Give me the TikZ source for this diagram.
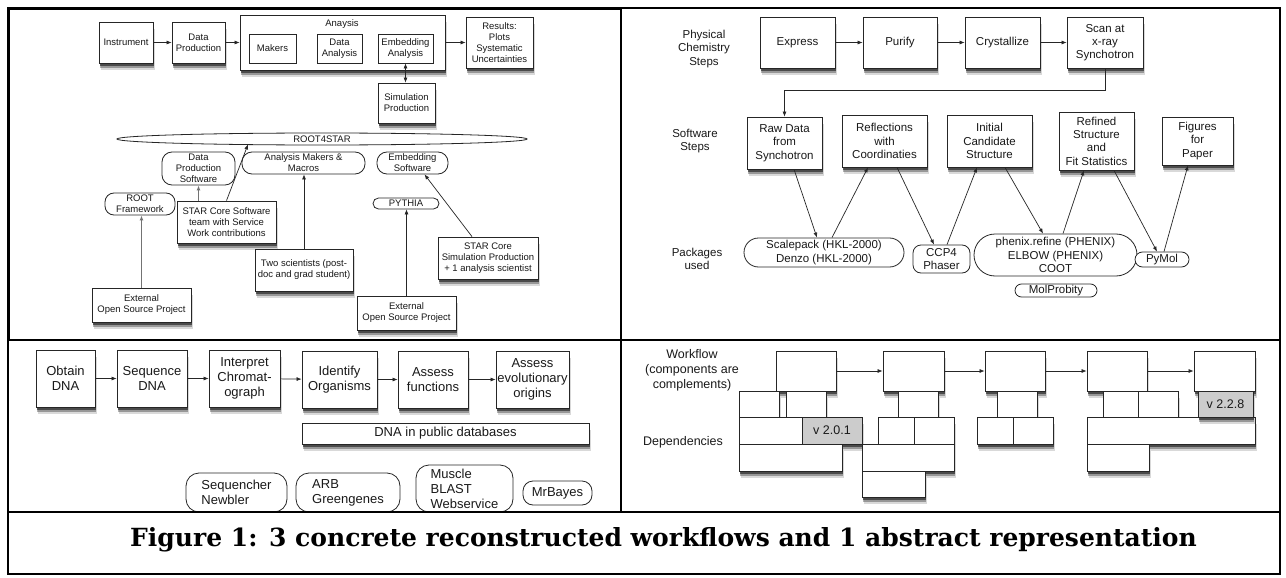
\documentclass[tikz,border=0pt]{standalone}
\usepackage{fontspec}
\setmainfont{Liberation Sans}
\newfontfamily\capfont{DejaVu Serif}
\usetikzlibrary{arrows.meta,shapes.misc,shapes.geometric,shadows,calc}
\newcommand\mkbox[7]{\node[#1, minimum width={#5-#3}, minimum height={#6-#4}] (#2) at ({(#3+#5)/2},{(#4+#6)/2}) {#7};}
\begin{document}
\begin{tikzpicture}[x=1pt,y=-1pt,
  base/.style={draw=black!85, line width=0.8pt, fill=white, align=center, inner sep=0.5pt, text=black!90},
  shd/.style={general shadow={fill=black, opacity=.15, shadow xshift=1.5pt, shadow yshift=-7pt},
              general shadow={fill=black, opacity=.3, shadow xshift=1pt, shadow yshift=-5pt},
              general shadow={fill=black, opacity=.5, shadow xshift=0.5pt, shadow yshift=-3pt}},
  sbox/.style={base, shd},
  rbox/.style={base, rounded corners=#1}, rbox/.default=8pt,
  stad/.style={base, rounded rectangle, inner sep=0pt},
  lbl/.style={align=center, text=black!90, inner sep=0pt},
  arr/.style={-{Latex[length=5pt,width=4pt]}, line width=0.7pt, draw=black!85},
  garr/.style={-{Latex[length=5pt,width=4pt]}, line width=1.1pt, draw=black!55},
  darr/.style={{Latex[length=5pt,width=4pt]}-{Latex[length=5pt,width=4pt]}, line width=0.7pt, draw=black!85},
  ftl/.style={font=\fontsize{9.5}{11}\selectfont},
  ftr/.style={font=\fontsize{11.5}{13.3}\selectfont},
  fbl/.style={font=\fontsize{13}{15}\selectfont},
  fbr/.style={font=\fontsize{12.5}{15}\selectfont},
  gry/.style={fill=black!20}
]
\useasboundingbox (0,0) rectangle (1286,578);
\fill[white] (0,0) rectangle (1286,578);

% ---------------- top-left: STAR ----------------
\mkbox{sbox,ftl}{instr}{99}{22}{153}{63}{Instrument}
\mkbox{sbox,ftl}{dprod}{172}{22}{225}{63}{Data\\Production}
\mkbox{sbox,ftl}{ana}{240}{15}{445}{70}{}
\node[lbl,ftl] (analbl) at (342,24) {Anaysis};
\mkbox{base,ftl}{mak}{249}{34}{296}{63}{Makers}
\mkbox{base,ftl}{dana}{317}{34}{362}{63}{Data\\Analysis}
\mkbox{base,ftl}{emba}{378}{34}{433}{63}{Embedding\\Analysis}
\mkbox{sbox,ftl}{res}{466}{17}{533}{68}{Results:\\Plots\\Systematic\\Uncertainties}
\mkbox{sbox,ftl}{sim}{378}{83}{435}{123}{Simulation\\Production}
\node[ellipse, draw=black!85, line width=0.8pt, minimum width=410, minimum height=12, inner sep=0pt] (r4s) at (322,139) {};
\node[lbl,ftl] (r4slbl) at (r4s) {ROOT4STAR};
\mkbox{rbox=10pt,ftl}{dps}{162}{152}{235}{185}{Data\\Production\\Software}
\mkbox{rbox=10pt,ftl}{amm}{242}{152}{365}{174}{Analysis Makers \&\\Macros}
\mkbox{rbox=10pt,ftl}{es}{377}{152}{448}{174}{Embedding\\Software}
\mkbox{rbox=9pt,ftl}{root}{105}{193}{175}{215}{ROOT\\Framework}
\mkbox{sbox,ftl}{scs}{177}{201}{276}{243}{STAR Core Software\\team with Service\\Work contributions}
\mkbox{sbox,ftl}{two}{255}{249}{353}{291}{Two scientists (post-\\doc and grad student)}
\mkbox{stad,ftl}{pyth}{373}{198}{439}{209}{PYTHIA}
\mkbox{sbox,ftl}{ext1}{92}{288}{191}{322}{External\\Open Source Project}
\mkbox{sbox,ftl}{ext2}{357}{296}{456}{330}{External\\Open Source Project}
\mkbox{sbox,ftl}{sim2}{438}{237}{538}{279}{STAR Core\\Simulation Production\\+ 1 analysis scientist}

\draw[arr] (instr) -- (dprod);
\draw[arr] (dprod) -- (ana);
\draw[arr] (ana) -- (res);
\draw[darr] (emba.south) -- (emba.south |- sim.north);
\draw[garr] (scs.north -| dps.south) -- (dps.south);
\draw[arr] (scs.north) -- ([xshift=-74pt,yshift=1pt]r4s.south);
\draw[garr] (ext1.north) -- (ext1.north |- root.south);
\draw[arr] (two.north) -- (two.north |- amm.south);
\draw[arr] (ext2.north) -- (ext2.north |- pyth.south);
\draw[arr] ([xshift=-16pt]sim2.north) -- ([xshift=12pt]es.south);

% ---------------- top-right: crystallography ----------------
\node[lbl,ftr] (lphys) at (704,49) {Physical\\Chemistry\\Steps};
\mkbox{sbox,ftr}{expr}{760}{17}{835}{68}{Express}
\mkbox{sbox,ftr}{puri}{863}{17}{937}{68}{Purify}
\mkbox{sbox,ftr}{crys}{965}{17}{1040}{68}{Crystallize}
\mkbox{sbox,ftr}{scan}{1067}{17}{1143}{68}{Scan at\\x-ray\\Synchotron}
\node[lbl,ftr] (lsoft) at (695,141) {Software\\Steps};
\mkbox{sbox,ftr}{raw}{747}{117}{822}{169}{Raw Data\\from\\Synchotron}
\mkbox{sbox,ftr}{refl}{842}{115}{927}{167}{Reflections\\with\\Coordinaties}
\mkbox{sbox,ftr}{init}{947}{115}{1032}{167}{Initial\\Candidate\\Structure}
\mkbox{sbox,ftr}{refi}{1059}{112}{1134}{170}{Refined\\Structure\\and\\Fit Statistics}
\mkbox{sbox,ftr}{figs}{1162}{117}{1233}{165}{Figures\\for\\Paper}
\node[lbl,ftr] (lpack) at (697,259) {Packages\\used};
\mkbox{stad,ftr}{sp}{744}{238}{904}{267}{Scalepack (HKL-2000)\\Denzo (HKL-2000)}
\mkbox{rbox=8pt,ftr}{ccp}{913}{245}{970}{273}{CCP4\\Phaser}
\mkbox{stad,ftr}{phx}{974}{234}{1137}{276}{phenix.refine (PHENIX)\\ELBOW (PHENIX)\\COOT}
\mkbox{stad,ftr}{pym}{1135}{252}{1189}{267}{PyMol}
\mkbox{stad,ftr}{molp}{1015}{284}{1097}{297}{MolProbity}

\draw[arr] (expr) -- (puri);
\draw[arr] (puri) -- (crys);
\draw[arr] (crys) -- (scan);
\draw[arr] (scan.south) -- ++(0,22) -| (raw.north);
\draw[arr] ([xshift=9.5pt]raw.south) -- ([xshift=-7pt]sp.north);
\draw[arr] ([xshift=8pt]sp.north) -- ([xshift=-16.5pt]refl.south);
\draw[arr] ([xshift=12.5pt]refl.south) -- ([xshift=-7.5pt]ccp.north);
\draw[arr] ([xshift=5.5pt]ccp.north) -- ([xshift=-12.5pt]init.south);
\draw[arr] ([xshift=15.5pt]init.south) -- ([xshift=-12.5pt]phx.north);
\draw[arr] ([xshift=7.5pt]phx.north) -- ([xshift=-12.5pt]refi.south);
\draw[arr] ([xshift=17.5pt]refi.south) -- ([xshift=-5pt]pym.north);
\draw[arr] ([xshift=2pt]pym.north) -- ([xshift=-9.5pt]figs.south);

% ---------------- bottom-left: DNA ----------------
\mkbox{sbox,fbl}{obt}{36}{350}{95}{407}{Obtain\\DNA}
\mkbox{sbox,fbl}{seq}{117}{350}{187}{407}{Sequence\\DNA}
\mkbox{sbox,fbl}{intp}{209}{350}{280}{407}{Interpret\\Chromat-\\ograph}
\mkbox{sbox,fbl}{iden}{302}{351}{377}{408}{Identify\\Organisms}
\mkbox{sbox,fbl}{assf}{398}{351}{468}{408}{Assess\\functions}
\mkbox{sbox,fbl}{asse}{496}{351}{569}{408}{Assess\\evolutionary\\origins}
\mkbox{sbox,fbl}{dnadb}{302}{423}{589}{444}{DNA in public databases}
\mkbox{rbox=13pt,fbl,align=left}{sqn}{186}{473}{287}{512}{Sequencher\\Newbler}
\mkbox{rbox=13pt,fbl,align=left}{arb}{296}{473}{400}{512}{ARB\\Greengenes}
\mkbox{rbox=13pt,fbl,align=left}{mus}{416}{465}{513}{512}{Muscle\\BLAST\\Webservice}
\mkbox{rbox=10pt,fbl}{mrb}{523}{481}{592}{505}{MrBayes}

\draw[arr] (obt) -- (seq);
\draw[arr] (seq) -- (intp);
\draw[arr] (intp) -- (iden);
\draw[arr] (iden) -- (assf);
\draw[arr] (assf) -- (asse);

% ---------------- bottom-right: abstract ----------------
\node[lbl,fbr] (lwf) at (692,370) {Workflow\\(components are\\complements)};
\node[lbl,fbr] (ldep) at (683,442) {Dependencies};
\mkbox{sbox,fbr}{w1}{776}{351}{836}{391}{}
\mkbox{sbox,fbr}{g1a}{739}{391}{779}{417}{}
\mkbox{sbox,fbr}{g1b}{786}{391}{826}{417}{}
\mkbox{sbox,fbr}{g1c}{739}{417}{802}{444}{}
\mkbox{sbox,fbr,gry}{g1v}{802}{417}{862}{444}{v 2.0.1}
\mkbox{sbox,fbr}{g1d}{739}{444}{842}{471}{}
\mkbox{sbox,fbr}{w2}{883}{351}{944}{391}{}
\mkbox{sbox,fbr}{g2a}{898}{391}{938}{417}{}
\mkbox{sbox,fbr}{g2b}{878}{417}{914}{444}{}
\mkbox{sbox,fbr}{g2c}{914}{417}{954}{444}{}
\mkbox{sbox,fbr}{g2d}{862}{444}{954}{471}{}
\mkbox{sbox,fbr}{g2e}{862}{471}{925}{497}{}
\mkbox{sbox,fbr}{w3}{985}{351}{1045}{391}{}
\mkbox{sbox,fbr}{g3a}{997}{391}{1037}{417}{}
\mkbox{sbox,fbr}{g3b}{977}{417}{1013}{444}{}
\mkbox{sbox,fbr}{g3c}{1013}{417}{1053}{444}{}
\mkbox{sbox,fbr}{w4}{1087}{351}{1147}{391}{}
\mkbox{sbox,fbr}{g4a}{1103}{391}{1138}{417}{}
\mkbox{sbox,fbr}{g4b}{1138}{391}{1178}{417}{}
\mkbox{sbox,fbr}{g4c}{1087}{417}{1255}{444}{}
\mkbox{sbox,fbr}{g4d}{1087}{444}{1149}{471}{}
\mkbox{sbox,fbr}{w5}{1194}{351}{1255}{391}{}
\mkbox{sbox,fbr,gry}{g5v}{1198}{391}{1253}{417}{v 2.2.8}

\draw[arr] (w1) -- (w2);
\draw[arr] (w2) -- (w3);
\draw[arr] (w3) -- (w4);
\draw[arr] (w4) -- (w5);

% ---------------- table frame ----------------
\draw[line width=1.4pt] (8,8) rectangle (1280,574);
\draw[line width=1.2pt] (621,8) -- (621,512);
\draw[line width=1.2pt] (8,340) -- (1280,340);
\draw[line width=1.2pt] (8,512) -- (1280,512);
\draw[line width=2.6pt] (8.5,8.5) rectangle (621,340);

\node[anchor=west, inner sep=0pt, font=\capfont\bfseries\fontsize{25}{30}\selectfont] (cap) at (130,540) {Figure 1: 3 concrete reconstructed workflows and 1 abstract representation};
\end{tikzpicture}
\end{document}
